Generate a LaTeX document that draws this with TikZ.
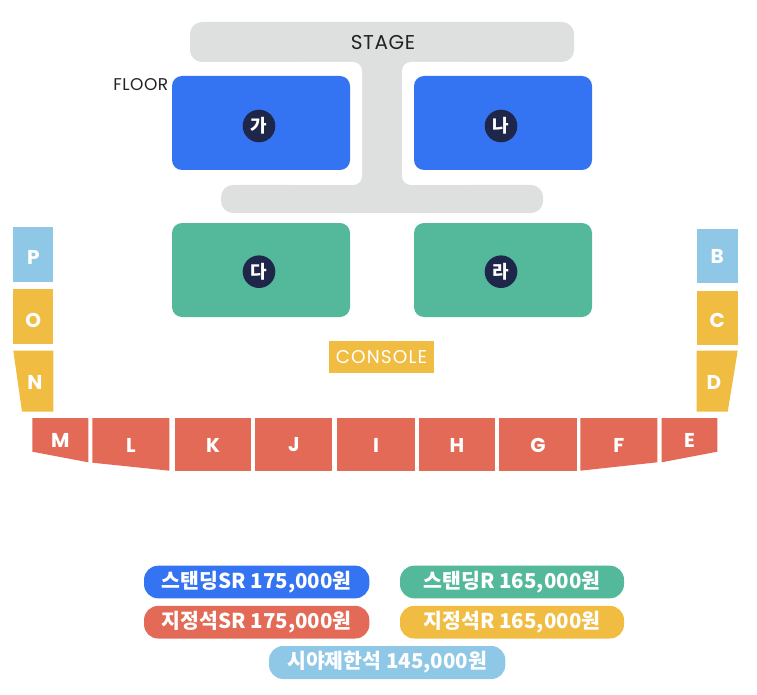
\documentclass[tikz,border=0pt]{standalone}
\usepackage{fontspec}
\setmainfont{Poppins}
\newfontfamily\kr{Noto Sans CJK KR}
\newfontfamily\pop{Poppins}
\newfontfamily\popwide[LetterSpace=6]{Poppins}
\newfontfamily\popmid[LetterSpace=3]{Poppins}
\definecolor{cBlue}{HTML}{3474F2}
\definecolor{cGreen}{HTML}{53B99A}
\definecolor{cRed}{HTML}{E36A56}
\definecolor{cYellow}{HTML}{F0BD42}
\definecolor{cLight}{HTML}{8FC8E7}
\definecolor{cGray}{HTML}{DEDFDF}
\definecolor{cNavy}{HTML}{1E2749}
\definecolor{cText}{HTML}{222222}
\tikzset{
  sec/.style={fill=cRed},
  seclbl/.style={text=white,font=\pop\bfseries\fontsize{20}{20}\selectfont,inner sep=0pt},
  floorbox/.style={rounded corners=10pt,minimum width=178pt,minimum height=94pt,inner sep=0pt,draw=none},
  zonecircle/.style={circle,fill=cNavy,minimum size=32.6pt,inner sep=0pt,text=white,font=\kr\bfseries\fontsize{18}{18}\selectfont},
  pill/.style={rounded corners=14pt,minimum height=32.6pt,inner sep=0pt,text=white,font=\kr\bfseries\fontsize{20.5}{20.5}\selectfont},
}
\begin{document}
\begin{tikzpicture}[x=1pt,y=-1pt]
\useasboundingbox (0,0) rectangle (757,695);
% stage
\fill[cGray,rounded corners=12pt] (190,22) rectangle (574,62);
\fill[cGray,rounded corners=12pt] (221,185) rectangle (543,213);
\fill[cGray] (340,55) rectangle (424,195);
\fill[white,rounded corners=9pt] (290,62) rectangle (362,185);
\fill[white,rounded corners=9pt] (402,62) rectangle (474,185);
\node[text=cText,font=\popmid\fontsize{20}{20}\selectfont,inner sep=0pt] (stage) at (383,43) {STAGE};
\node[text=cText,font=\popmid\fontsize{17}{17}\selectfont,inner sep=0pt,anchor=east] (floor) at (168.5,85) {FLOOR};
% floor blocks
\node[floorbox,fill=cBlue] (ga) at (261,123) {};
\node[floorbox,fill=cBlue] (na) at (503,123) {};
\node[floorbox,fill=cGreen] (da) at (261,270) {};
\node[floorbox,fill=cGreen] (ra) at (503,270) {};
\node[zonecircle] (cga) at (259,126) {가};
\node[zonecircle] (cna) at (501,126) {나};
\node[zonecircle] (cda) at (259,271.7) {다};
\node[zonecircle] (cra) at (501,271.7) {라};
% console
\node[fill=cYellow,minimum width=105.6pt,minimum height=32.3pt,inner sep=0pt,text=white,font=\popwide\fontsize{18.5}{18.5}\selectfont] (console) at (381.5,357.2) {CONSOLE};
% left side
\fill[cLight] (13.3,227.3) rectangle (53.3,282);
\fill[cYellow] (13.3,289.3) rectangle (53.3,344);
\fill[cYellow] (13.3,350.7) -- (53.3,350.7) -- (53.3,411.7) -- (22,411.7) -- cycle;
% right side
\fill[cLight] (696.7,229.3) rectangle (737.7,282.7);
\fill[cYellow] (696.7,290.7) rectangle (737.7,345);
\fill[cYellow] (696.7,350.7) -- (737.7,350.7) -- (727.7,411.7) -- (696.7,411.7) -- cycle;
% bottom row
\fill[sec] (32.3,418) -- (88.3,418) -- (88.3,462.3) -- (32.3,451.7) -- cycle;
\fill[sec] (92.3,418) -- (169.3,418) -- (169.3,470.7) -- (92.3,462.7) -- cycle;
\fill[sec] (174.7,418) rectangle (251.3,470.7);
\fill[sec] (255.3,418) rectangle (332.3,470.7);
\fill[sec] (337.3,418) rectangle (414.7,470.7);
\fill[sec] (418.7,418) rectangle (495.3,470.7);
\fill[sec] (499.3,418) rectangle (576.7,470.7);
\fill[sec] (580.3,418) -- (657.3,418) -- (657.3,462.3) -- (580.3,470.7) -- cycle;
\fill[sec] (661.7,418) -- (717.3,418) -- (717.3,451.7) -- (661.7,462.3) -- cycle;
% section labels
\node[seclbl] (lP) at (33.3,257.3) {P};
\node[seclbl] (lO) at (33.3,320.7) {O};
\node[seclbl] (lN) at (35,382.3) {N};
\node[seclbl] (lB) at (717.2,256.7) {B};
\node[seclbl] (lC) at (717.2,320) {C};
\node[seclbl] (lD) at (714,382.3) {D};
\node[seclbl] (lM) at (60.3,440) {M};
\node[seclbl] (lL) at (130.8,445) {L};
\node[seclbl] (lK) at (213,445) {K};
\node[seclbl] (lJ) at (293.8,445) {J};
\node[seclbl] (lI) at (376,445) {I};
\node[seclbl] (lH) at (457,445) {H};
\node[seclbl] (lG) at (538,445) {G};
\node[seclbl] (lF) at (618.8,445) {F};
\node[seclbl] (lE) at (689.5,440) {E};
% legend
\node[pill,fill=cBlue,minimum width=225.3pt] (p1) at (256.7,582) {스탠딩SR 175,000원};
\node[pill,fill=cGreen,minimum width=224pt] (p2) at (512,582) {스탠딩R 165,000원};
\node[pill,fill=cRed,minimum width=225.3pt] (p3) at (256.7,622.2) {지정석SR 175,000원};
\node[pill,fill=cYellow,minimum width=224pt] (p4) at (512,622.2) {지정석R 165,000원};
\node[pill,fill=cLight,minimum width=236.3pt,minimum height=33pt] (p5) at (387.2,662.5) {시야제한석 145,000원};
\end{tikzpicture}
\end{document}
